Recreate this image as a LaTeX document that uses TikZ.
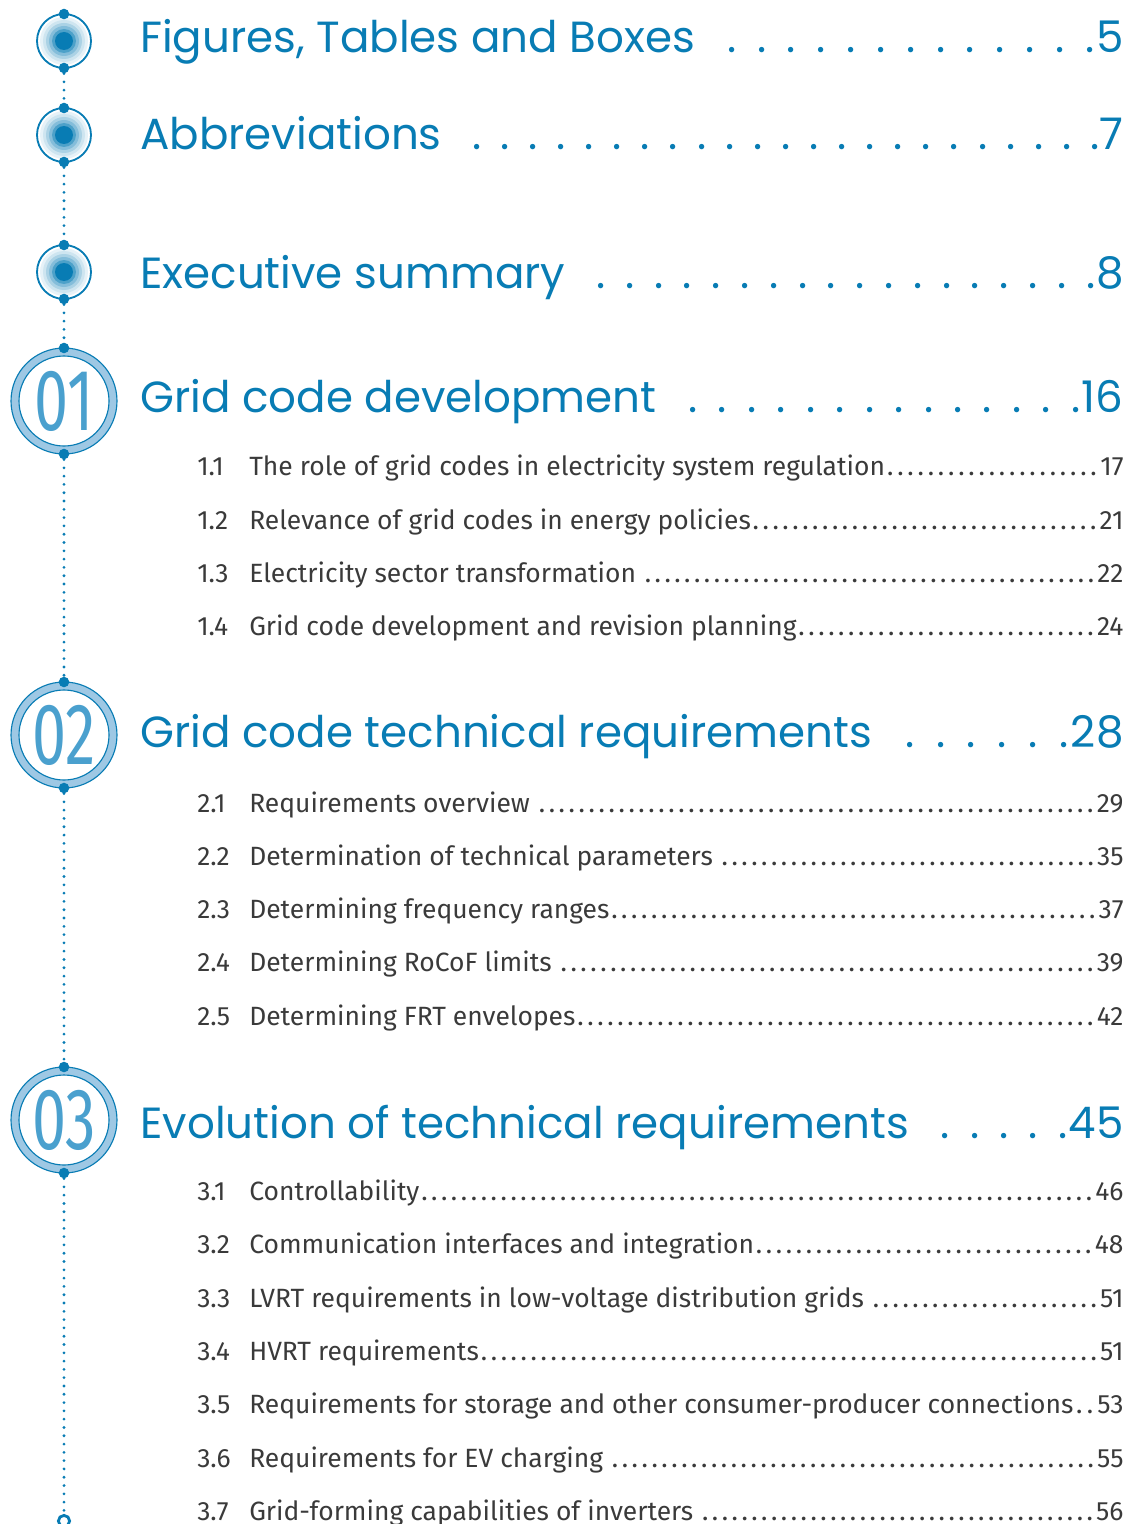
\documentclass[tikz,border=0pt]{standalone}
\usepackage{fontspec}
\usepackage{graphicx}
\setmainfont{Fira Sans}
\newfontfamily\headfont{Poppins}
\newfontfamily\numfont{Fira Sans}
\definecolor{tocblue}{RGB}{8,124,180}
\definecolor{ringblue}{RGB}{158,200,228}
\definecolor{numblue}{RGB}{74,160,206}
\definecolor{tocgrey}{RGB}{58,58,58}
\tikzstyle{head} = [anchor=base west, inner sep=0pt, text=tocblue, font=\headfont\fontsize{31}{32}\selectfont]
\tikzstyle{sub} = [anchor=base west, inner sep=0pt, text=tocgrey, font=\fontsize{18.8}{19}\selectfont]
\tikzstyle{joint} = [circle, fill=tocblue, inner sep=0pt, minimum size=7.5pt]
\tikzstyle{num} = [inner sep=0pt, text=numblue, font=\numfont\fontsize{62}{62}\selectfont]
\tikzstyle{trail} = [tocblue, line width=2.2pt, line cap=round, dash pattern=on 0pt off 5.9pt]
\newcommand{\hd}[2]{\hbox to 24.575cm{#1\xleaders\hbox to 19.9pt{\hss.}\hfill#2}}
\newcommand{\sbl}[3]{\hbox to 23.15cm{\hbox to 37pt{#1\hss}#2\xleaders\hbox to 7pt{\hss.\hss}\hfill\kern1pt#3}}
\newcommand{\tgt}[2]{
	\fill[white] (64,#2) circle (27);
	\foreach \r/\c in {24/10,21/20,18/34,15/50,12/72}{\fill[tocblue!\c] (64,#2) circle (\r);}
	\fill[tocblue] (64,#2) circle (9);
	\draw[tocblue, line width=1.3pt] (64,#2) circle (27);
	\node [joint] (#1a) at (64,#2-27) {};
	\node [joint] (#1b) at (64,#2+27) {};
}
\newcommand{\chr}[3]{
	\draw[ringblue, line width=5.7pt] (64,#2) circle (49);
	\draw[tocblue, line width=0.8pt] (64,#2) circle (53) (64,#2) circle (45);
	\node [num] (#1n) at (64,#2) {\scalebox{0.7}[1]{#3}};
	\node [joint] (#1a) at (64,#2-53) {};
	\node [joint] (#1b) at (64,#2+53) {};
}

\begin{document}
\begin{tikzpicture}[x=0.025cm, y=-0.025cm]
			\useasboundingbox (0,0) rectangle (1127,1524);
			\tgt{t1}{41} \tgt{t2}{135} \tgt{t3}{272}
			\chr{c1}{401}{01} \chr{c2}{735}{02} \chr{c3}{1120}{03}
			\node [circle, draw=tocblue, line width=2pt, inner sep=0pt, minimum size=8pt] (end) at (64,1521) {};
			\draw[trail] (t1b) -- (t2a) (t2b) -- (t3a) (t3b) -- (c1a) (c1b) -- (c2a) (c2b) -- (c3a) (c3b) -- (end);
			\node [head] (h0) at (140,53) {\hd{Figures, Tables and Boxes }{5}};
			\node [head] (h00) at (140,150) {\hd{Abbreviations }{7}};
			\node [head] (h000) at (140,288) {\hd{Executive summary }{8}};
			\node [head] (h1) at (140,412) {\hd{Grid code development }{16}};
			\node [sub] (s11) at (197,475) {\sbl{1.1}{The role of grid codes in electricity system regulation}{17}};
			\node [sub] (s12) at (197,529) {\sbl{1.2}{Relevance of grid codes in energy policies}{21}};
			\node [sub] (s13) at (197,582) {\sbl{1.3}{Electricity sector transformation }{22}};
			\node [sub] (s14) at (197,635) {\sbl{1.4}{Grid code development and revision planning}{24}};
			\node [head] (h2) at (140,747) {\hd{Grid code technical requirements }{28}};
			\node [sub] (s21) at (197,812) {\sbl{2.1}{Requirements overview }{29}};
			\node [sub] (s22) at (197,865) {\sbl{2.2}{Determination of technical parameters }{35}};
			\node [sub] (s23) at (197,918) {\sbl{2.3}{Determining frequency ranges}{37}};
			\node [sub] (s24) at (197,971) {\sbl{2.4}{Determining RoCoF limits }{39}};
			\node [sub] (s25) at (197,1025) {\sbl{2.5}{Determining FRT envelopes}{42}};
			\node [head] (h3) at (140,1138) {\hd{Evolution of technical requirements }{45}};
			\node [sub] (s31) at (197,1200) {\sbl{3.1}{Controllability}{46}};
			\node [sub] (s32) at (197,1253) {\sbl{3.2}{Communication interfaces and integration}{48}};
			\node [sub] (s33) at (197,1307) {\sbl{3.3}{LVRT requirements in low-voltage distribution grids }{51}};
			\node [sub] (s34) at (197,1360) {\sbl{3.4}{HVRT requirements}{51}};
			\node [sub] (s35) at (197,1413) {\sbl{3.5}{Requirements for storage and other consumer-producer connections}{53}};
			\node [sub] (s36) at (197,1467) {\sbl{3.6}{Requirements for EV charging }{55}};
			\node [sub] (s37) at (197,1520) {\sbl{3.7}{Grid-forming capabilities of inverters }{56}};
		\end{tikzpicture}
\end{document}
